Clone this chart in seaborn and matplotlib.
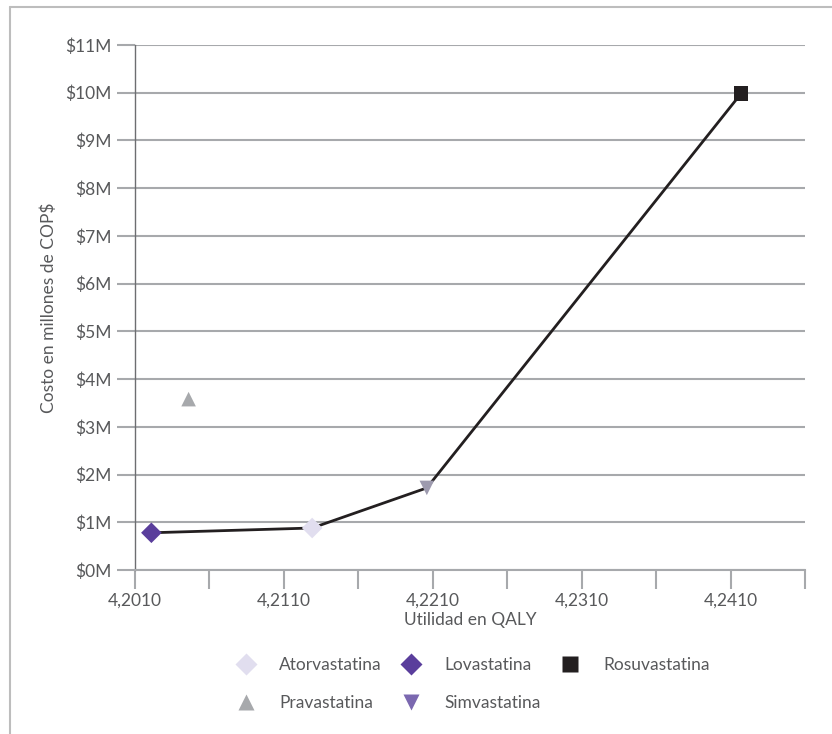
import numpy as np
import pandas as pd
import matplotlib.pyplot as plt
import seaborn as sns
from matplotlib.lines import Line2D

# Data (cost in millions of COP$)
drugs = ["Atorvastatina", "Lovastatina", "Rosuvastatina", "Pravastatina", "Simvastatina"]
qaly = [4.2129, 4.2021, 4.2417, 4.2046, 4.2206]
cost = [0.88, 0.78, 9.98, 3.58, 1.72]

# efficient frontier, in order along the line
frontier = ["Lovastatina", "Atorvastatina", "Simvastatina", "Rosuvastatina"]

yticks = list(range(0, 12))
xticks = [4.2010, 4.2060, 4.2110, 4.2160, 4.2210, 4.2260, 4.2310, 4.2360, 4.2410, 4.2460]
xtick_labels = ["4,2010", "", "4,2110", "", "4,2210", "", "4,2310", "", "4,2410", ""]

colors = {
    "Atorvastatina": "#E1DEEF",
    "Lovastatina": "#5A3E9C",
    "Rosuvastatina": "#231F20",
    "Pravastatina": "#A7A9AC",
    "Simvastatina": "#9D9AAE",
}
legend_colors = dict(colors, Simvastatina="#7B68B0")
markers = {
    "Atorvastatina": "D",
    "Lovastatina": "D",
    "Rosuvastatina": "s",
    "Pravastatina": "^",
    "Simvastatina": "v",
}

df = pd.DataFrame({"drug": drugs, "qaly": qaly, "cost": cost})
front = df.set_index("drug").loc[frontier].reset_index()

sns.set_style("white")
plt.rcParams["font.family"] = ["Lato", "DejaVu Sans"]
text_col = "#58595B"
grid_col = "#A7A9AC"
fs = 12.5

fig = plt.figure(figsize=(8.32, 7.34), dpi=100)
ax = fig.add_axes([135 / 832, 1 - 570 / 734, 670 / 832, 525 / 734])

ax.grid(axis="y", color=grid_col, lw=1.5, zorder=0)
sns.lineplot(data=front, x="qaly", y="cost", sort=False, color="#231F20", lw=2, ax=ax, zorder=2)
sns.scatterplot(data=df, x="qaly", y="cost", hue="drug", style="drug", palette=colors,
                markers=markers, s=110, edgecolor="none", legend=False, ax=ax, zorder=3)

ax.set_xlim(4.2010, 4.2460)
ax.set_ylim(0, 11)
ax.set_xticks(xticks)
ax.set_xticklabels(xtick_labels)
ax.set_yticks(yticks)
ax.set_yticklabels([f"${v}M" for v in yticks])

ax.tick_params(axis="y", length=13, width=1.5, color=grid_col, labelsize=fs,
               labelcolor=text_col, pad=4, left=True)
ax.tick_params(axis="x", length=14, width=1.5, color=grid_col, labelsize=fs,
               labelcolor=text_col, pad=2, bottom=True, direction="out")

for side in ["top", "right"]:
    ax.spines[side].set_visible(False)
ax.spines["left"].set_color("#6D6E71")
ax.spines["left"].set_linewidth(1)
ax.spines["bottom"].set_color(grid_col)
ax.spines["bottom"].set_linewidth(1.5)

ax.set_xlabel("Utilidad en QALY", fontsize=fs, color=text_col, labelpad=3)
ax.set_ylabel("Costo en millones de COP$", fontsize=fs, color=text_col, labelpad=6)

handles = []
for d in ["Atorvastatina", "Pravastatina", "Lovastatina", "Simvastatina", "Rosuvastatina"]:
    handles.append(Line2D([], [], ls="none", marker=markers[d], markersize=11,
                          markerfacecolor=legend_colors[d], markeredgecolor="none", label=d))
leg = fig.legend(handles=handles, ncol=3, loc="center", bbox_to_anchor=(0.568, 0.068),
                 frameon=False, fontsize=fs, handlelength=1.2, handletextpad=1.3,
                 columnspacing=1.1, labelspacing=1.3)
for t in leg.get_texts():
    t.set_color(text_col)

# outer frame lines (top and left)
fig.add_artist(Line2D([10 / 832, 1], [1 - 7 / 734, 1 - 7 / 734], color="#BDBDBD", lw=1.5))
fig.add_artist(Line2D([10 / 832, 10 / 832], [0, 1 - 7 / 734], color="#BDBDBD", lw=1.5))

fig.savefig("out.png", dpi=100)
